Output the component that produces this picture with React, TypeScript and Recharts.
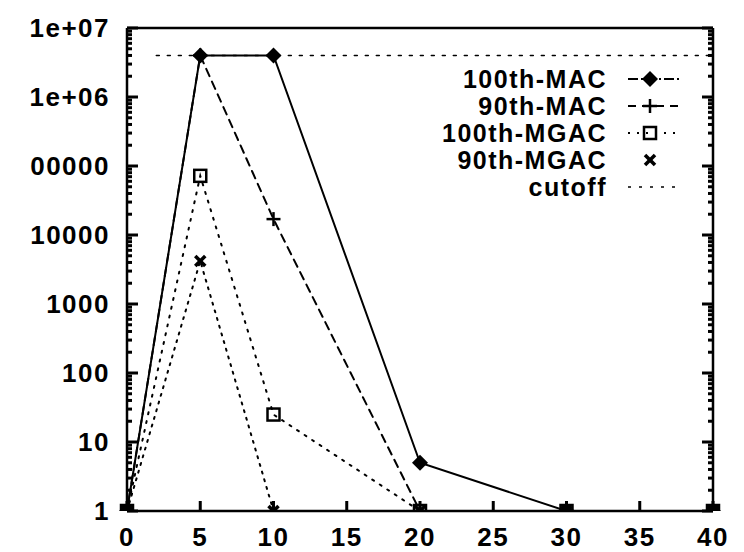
import { LineChart, Line, XAxis, YAxis } from "recharts";

// x positions shared by all series
const xValues = [0, 5, 10, 20, 30, 40];

const mac100 = [1, 4e6, 4e6, 5, 1, 1];
const mac90 = [1, 4e6, 17000, 1, 1, 1];
const mgac100 = [1, 72000, 25, 1, 1, 1];
const mgac90 = [1, 4200, 1, 1, 1, 1];

const cutoffX = [2, 40];
const cutoffValue = 4e6;

const xTicks = [0, 5, 10, 15, 20, 25, 30, 35, 40];
const yMajor = [1, 10, 100, 1000, 10000, 100000, 1e6, 1e7];
const yLabels = ["1", "10", "100", "1000", "10000", "00000", "1e+06", "1e+07"];

const W = 744;
const H = 552;
const FONT = "'Liberation Sans', Arial, Helvetica, sans-serif";
const TICK = "#000";

// log ticks: decades plus 2..9 minors
const yTicks: number[] = [];
yMajor.forEach((d, i) => {
  yTicks.push(d);
  if (i < yMajor.length - 1) for (let k = 2; k <= 9; k++) yTicks.push(d * k);
});

const toRows = (ys: number[]) => xValues.map((x, i) => ({ x, y: ys[i] }));
const cutoffRows = cutoffX.map((x) => ({ x, y: cutoffValue }));

type Marker = "diamond" | "plus" | "square" | "cross" | "none";

function drawMarker(kind: Marker, cx: number, cy: number, key?: string) {
  if (kind === "diamond")
    return (
      <path key={key} d={`M${cx},${cy - 8}L${cx + 8},${cy}L${cx},${cy + 8}L${cx - 8},${cy}Z`} fill="#000" />
    );
  if (kind === "plus")
    return (
      <g key={key} stroke="#000" strokeWidth={2.5}>
        <line x1={cx - 7} y1={cy} x2={cx + 7} y2={cy} />
        <line x1={cx} y1={cy - 7} x2={cx} y2={cy + 7} />
      </g>
    );
  if (kind === "square")
    return <rect key={key} x={cx - 6} y={cy - 6} width={12} height={12} fill="none" stroke="#000" strokeWidth={2.5} />;
  if (kind === "cross")
    return (
      <g key={key} stroke="#000" strokeWidth={3.5}>
        <line x1={cx - 5} y1={cy - 5} x2={cx + 5} y2={cy + 5} />
        <line x1={cx - 5} y1={cy + 5} x2={cx + 5} y2={cy - 5} />
      </g>
    );
  return <g key={key} />;
}

const series = [
  { name: "100th-MAC", rows: toRows(mac100), dash: undefined, width: 2, marker: "diamond" as Marker },
  { name: "90th-MAC", rows: toRows(mac90), dash: "8 6", width: 2, marker: "plus" as Marker },
  { name: "100th-MGAC", rows: toRows(mgac100), dash: "2 7", width: 2, marker: "square" as Marker },
  { name: "90th-MGAC", rows: toRows(mgac90), dash: "2 6", width: 2, marker: "cross" as Marker },
  { name: "cutoff", rows: cutoffRows, dash: "3 8", width: 1.5, marker: "none" as Marker },
];

const labelStyle = { fontSize: 26, fontWeight: 700, fontFamily: FONT, letterSpacing: 1.5, fill: "#000" };

function BottomTick({ x, y, payload }: any) {
  return (
    <g>
      <path d={`M${x},${y}V${y - 10}`} stroke={TICK} strokeWidth={3} />
      <text x={x} y={y + 35} textAnchor="middle" {...labelStyle}>
        {payload.value}
      </text>
    </g>
  );
}

function TopTick({ x, y }: any) {
  return <path d={`M${x},${y}V${y + 10}`} stroke={TICK} strokeWidth={3} />;
}

function LeftTick({ x, y, payload }: any) {
  const i = yMajor.indexOf(payload.value);
  return (
    <g>
      <path d={`M${x},${y}H${x + (i >= 0 ? 11 : 5)}`} stroke={TICK} strokeWidth={3} />
      {i >= 0 && (
        <text x={x - 17} y={y + 9} textAnchor="end" {...labelStyle}>
          {yLabels[i]}
        </text>
      )}
    </g>
  );
}

function RightTick({ x, y, payload }: any) {
  const major = yMajor.includes(payload.value);
  return <path d={`M${x},${y}H${x - (major ? 11 : 5)}`} stroke={TICK} strokeWidth={3} />;
}

function LegendBox() {
  return (
    <svg width={W} height={H} style={{ position: "absolute", left: 0, top: 0, pointerEvents: "none" }}>
      {series.map((s, i) => {
        const cy = 79 + i * 27;
        return (
          <g key={s.name}>
            <text x={607} y={cy + 9} textAnchor="end" {...labelStyle} fontSize={25}>
              {s.name}
            </text>
            {s.name !== "90th-MGAC" && (
              <line x1={628} y1={cy} x2={680} y2={cy} stroke="#000" strokeWidth={s.width} strokeDasharray={s.dash ?? "10 3 2 3"} />
            )}
            {drawMarker(s.marker, 650, cy)}
          </g>
        );
      })}
    </svg>
  );
}

const axisLine = { stroke: "#000", strokeWidth: 2.5 };

export default function App() {
  return (
    <div style={{ position: "absolute", left: 0, top: 0, width: W, height: H, background: "#fff" }}>
      <LineChart width={W} height={H} margin={{ top: 27, right: 30, bottom: 0, left: 0 }}>
        <XAxis
          xAxisId="b"
          dataKey="x"
          type="number"
          domain={[0, 40]}
          ticks={xTicks}
          interval={0}
          height={41}
          tickSize={0}
          tickMargin={0}
          tickLine={false}
          axisLine={axisLine}
          tick={<BottomTick />}
        />
        <XAxis
          xAxisId="t"
          orientation="top"
          dataKey="x"
          type="number"
          domain={[0, 40]}
          ticks={xTicks}
          interval={0}
          height={1}
          tickSize={0}
          tickMargin={0}
          tickLine={false}
          axisLine={axisLine}
          tick={<TopTick />}
        />
        <YAxis
          yAxisId="l"
          scale="log"
          domain={[1, 1e7]}
          allowDataOverflow
          ticks={yTicks}
          interval={0}
          width={127}
          tickSize={0}
          tickMargin={0}
          tickLine={false}
          axisLine={axisLine}
          tick={<LeftTick />}
        />
        <YAxis
          yAxisId="r"
          orientation="right"
          scale="log"
          domain={[1, 1e7]}
          allowDataOverflow
          ticks={yTicks}
          interval={0}
          width={1}
          tickSize={0}
          tickMargin={0}
          tickLine={false}
          axisLine={axisLine}
          tick={<RightTick />}
        />
        {series
          .slice()
          .reverse()
          .map((s) => (
            <Line
              key={s.name}
              xAxisId="b"
              yAxisId="l"
              data={s.rows}
              dataKey="y"
              name={s.name}
              type="linear"
              stroke="#000"
              strokeWidth={s.width}
              strokeDasharray={s.dash}
              strokeLinecap="round"
              isAnimationActive={false}
              dot={(p: any) => drawMarker(s.marker, p.cx, p.cy, `${s.name}-${p.index}`)}
              activeDot={false}
            />
          ))}
      </LineChart>
      <LegendBox />
    </div>
  );
}
